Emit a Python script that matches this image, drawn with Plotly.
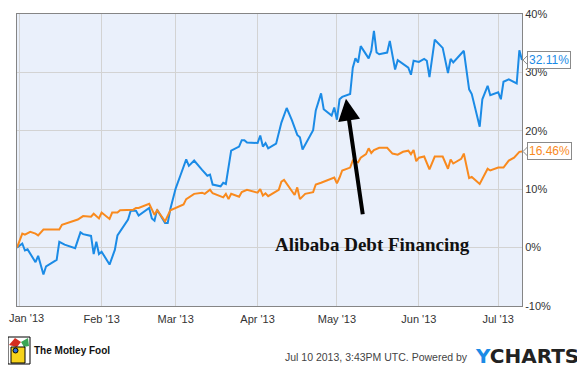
import plotly.graph_objects as go

# ---- data ----
blue_dates = ["2012-12-31",
 "2013-01-02","2013-01-03","2013-01-04","2013-01-07","2013-01-08","2013-01-10","2013-01-11","2013-01-15","2013-01-16","2013-01-18","2013-01-22","2013-01-24","2013-01-25","2013-01-28","2013-01-29","2013-01-30","2013-01-31",
 "2013-02-01","2013-02-04","2013-02-06","2013-02-07","2013-02-11","2013-02-12","2013-02-14","2013-02-15","2013-02-19","2013-02-20","2013-02-21","2013-02-22","2013-02-25","2013-02-26","2013-02-27",
 "2013-03-01","2013-03-03","2013-03-05","2013-03-06","2013-03-08","2013-03-11","2013-03-13","2013-03-14","2013-03-15","2013-03-18","2013-03-19","2013-03-20","2013-03-22","2013-03-25","2013-03-26","2013-03-27","2013-03-28",
 "2013-04-01","2013-04-02","2013-04-03","2013-04-04","2013-04-05","2013-04-08","2013-04-10","2013-04-12","2013-04-14","2013-04-16","2013-04-17","2013-04-18","2013-04-22","2013-04-23","2013-04-25","2013-04-26","2013-04-29","2013-04-30",
 "2013-05-01","2013-05-02","2013-05-03","2013-05-06","2013-05-07","2013-05-08","2013-05-09","2013-05-10","2013-05-13","2013-05-14","2013-05-15","2013-05-16","2013-05-17","2013-05-20","2013-05-21","2013-05-23","2013-05-24","2013-05-28","2013-05-29","2013-05-30",
 "2013-06-01","2013-06-03","2013-06-04","2013-06-05","2013-06-07","2013-06-10","2013-06-12","2013-06-13","2013-06-14","2013-06-18","2013-06-20","2013-06-21","2013-06-24","2013-06-25","2013-06-27","2013-06-28",
 "2013-07-01","2013-07-02","2013-07-03","2013-07-05","2013-07-08","2013-07-09","2013-07-10"]
blue_values = [0.0, 0.7, -0.5, -0.3, -2.5, -1.4, -4.6, -3.2, -2.1, 1.0,
 0.5, -0.1, 2.6, 2.3, 2.0, -1.1, 1.0, -1.1, -0.7, -2.9,
 -0.4, 2.1, 4.8, 6.3, 6.3, 5.5, 6.8, 5.0, 4.6, 6.5,
 4.2, 4.2, 6.6, 10.1, 12.6, 15.1, 14.0, 14.9, 13.3, 12.3,
 12.5, 10.8, 10.5, 11.1, 10.9, 16.6, 17.3, 18.4, 18.4, 18.0,
 17.9, 19.2, 17.3, 17.9, 17.0, 17.8, 21.4, 23.9, 21.8, 19.3,
 18.9, 16.8, 20.1, 23.5, 26.4, 23.7, 22.6, 24.0, 21.9, 25.4,
 25.8, 26.3, 30.8, 32.4, 31.7, 34.5, 32.4, 33.7, 37.1, 33.4,
 33.1, 33.4, 35.4, 30.5, 32.1, 30.8, 29.6, 32.0, 31.8, 32.3,
 32.0, 29.2, 35.6, 34.2, 29.9, 32.3, 31.7, 33.7, 27.1, 26.3,
 20.7, 25.4, 27.7, 26.1, 26.6, 25.4, 28.4, 28.8, 28.1, 33.8, 32.11]

orange_dates = ["2012-12-31",
 "2013-01-02","2013-01-03","2013-01-05","2013-01-07","2013-01-08","2013-01-10","2013-01-16","2013-01-17","2013-01-23","2013-01-25","2013-01-28","2013-01-29","2013-01-31",
 "2013-02-01","2013-02-04","2013-02-05","2013-02-07","2013-02-08","2013-02-13","2013-02-14","2013-02-15","2013-02-19","2013-02-21","2013-02-22","2013-02-25","2013-02-27",
 "2013-03-02","2013-03-04","2013-03-05","2013-03-08","2013-03-11","2013-03-12","2013-03-14","2013-03-15","2013-03-19","2013-03-20","2013-03-21","2013-03-22","2013-03-25","2013-03-26","2013-03-28",
 "2013-04-01","2013-04-02","2013-04-03","2013-04-04","2013-04-05","2013-04-09","2013-04-10","2013-04-11","2013-04-12","2013-04-15","2013-04-16","2013-04-17","2013-04-19","2013-04-22","2013-04-23","2013-04-25","2013-04-30",
 "2013-05-01","2013-05-02","2013-05-03","2013-05-06","2013-05-07","2013-05-09","2013-05-10","2013-05-12","2013-05-13","2013-05-14","2013-05-15","2013-05-17","2013-05-20","2013-05-22","2013-05-24","2013-05-26","2013-05-28","2013-05-29","2013-05-30","2013-05-31",
 "2013-06-01","2013-06-03","2013-06-05","2013-06-07","2013-06-10","2013-06-12","2013-06-13","2013-06-14","2013-06-17","2013-06-18","2013-06-20","2013-06-21","2013-06-24","2013-06-27","2013-06-28",
 "2013-07-01","2013-07-03","2013-07-05","2013-07-07","2013-07-09","2013-07-10"]
orange_values = [0.0, 2.4, 2.2, 2.7, 2.4, 2.1, 3.1, 3.1, 3.9, 4.8,
 5.4, 5.3, 5.8, 5.0, 6.0, 4.9, 6.0, 6.0, 6.4, 6.5,
 6.8, 6.8, 7.5, 5.6, 6.4, 4.5, 6.4, 7.0, 7.4, 8.3,
 9.2, 9.4, 9.2, 9.9, 9.3, 8.6, 9.2, 8.3, 9.2, 8.7,
 9.5, 9.9, 9.4, 10.0, 8.9, 9.3, 8.8, 9.9, 11.3, 11.6,
 10.9, 9.0, 10.3, 8.3, 9.2, 9.5, 10.8, 11.1, 12.0, 11.0,
 12.0, 13.2, 13.7, 14.9, 14.6, 15.4, 16.0, 17.0, 16.2, 16.7,
 17.1, 17.1, 16.1, 15.9, 16.4, 16.6, 16.0, 16.7, 14.8, 15.4,
 15.6, 13.4, 15.6, 15.6, 13.5, 15.1, 14.4, 15.2, 16.1, 11.9,
 12.1, 10.9, 13.5, 13.2, 13.7, 13.7, 14.9, 15.4, 16.4, 16.46]

month_ticks = ["2013-01-01","2013-02-01","2013-03-01","2013-04-01","2013-05-01","2013-06-01","2013-07-01"]
month_labels = ["Jan '13","Feb '13","Mar '13","Apr '13","May '13","Jun '13","Jul '13"]
y_ticks = [-10, 0, 10, 20, 30, 40]
y_labels = ["-10%", "0%", "10%", "20%", "30%", "40%"]

annotation_text = "Alibaba Debt Financing"
arrow_date = "2013-05-04 10:00"
arrow_value = 25.5
footer_text = "Jul 10 2013, 3:43PM UTC. Powered by"

BLUE = "#1b8be6"
ORANGE = "#f98a1e"

fig = go.Figure()
fig.add_trace(go.Scatter(x=blue_dates, y=blue_values, mode="lines",
                         line=dict(color=BLUE, width=2), hoverinfo="skip"))
fig.add_trace(go.Scatter(x=orange_dates, y=orange_values, mode="lines",
                         line=dict(color=ORANGE, width=2), hoverinfo="skip"))

# the page body adds an 8px offset, so the figure is 8px smaller and margins shifted
fig.update_layout(
    width=577, height=360,
    margin=dict(l=9, r=63, t=6, b=62),
    paper_bgcolor="white", plot_bgcolor="#eaf0fb",
    showlegend=False,
    font=dict(family="Arial, Liberation Sans, sans-serif", size=11, color="#333333"),
    xaxis=dict(range=["2012-12-31", "2013-07-10"], tickvals=month_ticks,
               ticktext=[""] + month_labels[1:], ticklabelstandoff=3,
               showgrid=True, gridcolor="#d3d3d3", gridwidth=1, zeroline=False, automargin=False,
               showline=True, linecolor="#858585", linewidth=1, mirror=True,
               ticks="", tickfont=dict(size=11, color="#333333")),
    yaxis=dict(range=[-10, 40], tickvals=y_ticks, ticktext=y_labels, side="right",
               ticklabeloverflow="allow",
               showgrid=True, gridcolor="#d3d3d3", gridwidth=1, zeroline=False, automargin=False,
               showline=True, linecolor="#858585", linewidth=1, mirror=True,
               ticks="", tickfont=dict(size=11, color="#333333")),
)

# first month label (kept inside the page edge)
fig.add_annotation(x=month_ticks[0], xref="x", y=0, yref="paper", yanchor="top", xanchor="left",
                   xshift=-13, yshift=-4, text=month_labels[0], showarrow=False,
                   font=dict(size=11, color="#333333"))

# last value labels with pointer
for val, col in [(blue_values[-1], BLUE), (orange_values[-1], ORANGE)]:
    fig.add_annotation(x=1, xref="paper", y=val, yref="y", xanchor="left", yanchor="middle",
                       xshift=5, text=f"{val:.2f}%", showarrow=False,
                       font=dict(size=12, color=col), bgcolor="white",
                       bordercolor="#8a8a8a", borderwidth=1, borderpad=1)
    fig.add_shape(type="path", xref="paper", yref="y", xsizemode="pixel", ysizemode="pixel",
                  xanchor=1, yanchor=val, path="M 6,5 L 1,0 L 6,-5",
                  line=dict(color="#8a8a8a", width=1))

# callout
fig.add_annotation(x=arrow_date, y=arrow_value, xref="x", yref="y", text="",
                   showarrow=True, arrowhead=2, arrowsize=1.1, arrowwidth=4,
                   arrowcolor="black", ax=17, ay=117)
fig.add_annotation(x=0.704, y=0.212, xref="paper", yref="paper", xanchor="center", yanchor="middle",
                   text=f"<b>{annotation_text}</b>", showarrow=False,
                   font=dict(family="Liberation Serif, serif", size=19, color="#111111"))

# footer
fig.add_annotation(x=0.897, y=-0.175, xref="paper", yref="paper", xanchor="right", yanchor="middle",
                   text=footer_text, showarrow=False, font=dict(size=10.5, color="#444444"))
fig.add_annotation(x=1.117, y=-0.172, xref="paper", yref="paper", xanchor="right", yanchor="middle",
                   text=f"<b><span style='color:{BLUE}'>Y</span>CHARTS</b>", showarrow=False,
                   font=dict(family="DejaVu Sans, sans-serif", size=20, color="#222222"))
fig.add_annotation(x=0.030, y=-0.154, xref="paper", yref="paper", xanchor="left", yanchor="middle",
                   text="<b>The Motley Fool</b>", showarrow=False,
                   font=dict(family="Arial, Liberation Sans, sans-serif", size=10, color="#111111"))

# simple jester logo
def px(xp):
    return (xp - 17) / 505
def py(yp):
    return (306 - yp) / 292
fig.add_shape(type="rect", xref="paper", yref="paper", x0=px(8), x1=px(30), y0=py(364), y1=py(337),
              line=dict(color="black", width=1), fillcolor="white")
fig.add_shape(type="path", xref="paper", yref="paper",
              path=f"M {px(9)},{py(345)} L {px(15)},{py(338)} L {px(21)},{py(342)} L {px(17)},{py(347)} Z",
              line=dict(width=0), fillcolor="#d62d20")
fig.add_shape(type="path", xref="paper", yref="paper",
              path=f"M {px(21)},{py(342)} L {px(28)},{py(338)} L {px(29)},{py(346)} L {px(24)},{py(347)} Z",
              line=dict(width=0), fillcolor="#3aa655")
fig.add_shape(type="rect", xref="paper", yref="paper", x0=px(11), x1=px(25), y0=py(363), y1=py(347),
              line=dict(color="black", width=1), fillcolor="#f6d31c")
fig.add_shape(type="circle", xref="paper", yref="paper", x0=px(13), x1=px(18), y0=py(353), y1=py(348),
              line=dict(color="black", width=1), fillcolor="#2f6fd6")

fig.write_html("out.html")
